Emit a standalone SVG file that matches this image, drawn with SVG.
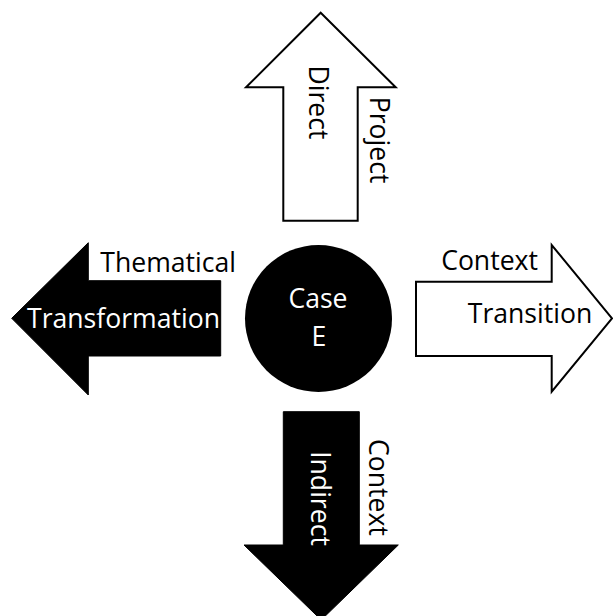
<svg xmlns="http://www.w3.org/2000/svg" width="613" height="616" viewBox="0 0 613 616">
  <style>
    .lbl { font-family: "Open Sans", "Noto Sans", sans-serif; font-size: 26.6px; }
    .dark { fill: #000; }
    .light { fill: #fff; }
    .outline { fill: #fff; stroke: #000; stroke-width: 2; stroke-linejoin: miter; }
    .solid { fill: #000; stroke: #000; stroke-width: 1; }
  </style>
  <rect width="613" height="616" fill="#fff"/>

  <!-- upward block arrow: Direct / Project -->
  <g id="arrow-up">
    <polygon class="outline" points="320.7,12.7 395.7,87.3 357.7,87.3 357.7,220.7 283.3,220.7 283.3,87.3 246,87.3"/>
    <text class="lbl dark" transform="translate(309,102.5) rotate(90)" text-anchor="middle">Direct</text>
    <text class="lbl dark" transform="translate(370,140) rotate(90)" text-anchor="middle">Project</text>
  </g>

  <!-- leftward block arrow: Thematical / Transformation -->
  <g id="arrow-left">
    <polygon class="solid" points="11.7,318.3 88.3,242.7 88.3,280.7 220.7,280.7 220.7,356 88.3,356 88.3,395"/>
    <text class="lbl dark" x="236" y="271.7" text-anchor="end">Thematical</text>
    <text class="lbl light" x="123.5" y="328.3" text-anchor="middle">Transformation</text>
  </g>

  <!-- rightward block arrow: Context / Transition -->
  <g id="arrow-right">
    <polygon class="outline" points="612,318.3 551.7,245 551.7,281.7 416,281.7 416,356 551.7,356 551.7,391.7"/>
    <text class="lbl dark" x="538" y="270" text-anchor="end">Context</text>
    <text class="lbl dark" x="530" y="323" text-anchor="middle">Transition</text>
  </g>

  <!-- downward block arrow: Indirect / Context -->
  <g id="arrow-down">
    <polygon class="solid" points="283.3,411.7 359.3,411.7 359.3,545 398.3,545 321.2,620 244,545 283.3,545"/>
    <text class="lbl light" transform="translate(311,498.5) rotate(90)" text-anchor="middle">Indirect</text>
    <text class="lbl dark" transform="translate(369,487.5) rotate(90)" text-anchor="middle">Context</text>
  </g>

  <!-- central case node -->
  <g id="case-e">
    <circle cx="318.5" cy="318.5" r="73.5" fill="#000"/>
    <text class="lbl light" x="318" y="308" text-anchor="middle">Case</text>
    <text class="lbl light" x="319" y="346" text-anchor="middle">E</text>
  </g>
</svg>
